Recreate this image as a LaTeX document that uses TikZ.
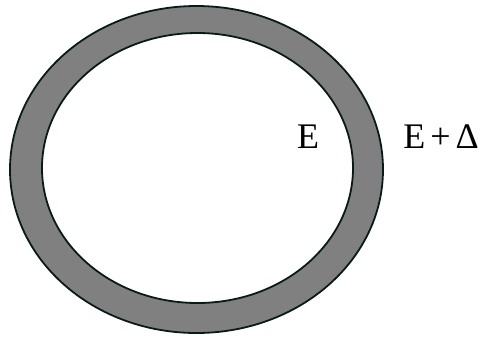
\documentclass[tikz,border=0pt]{standalone}
\usepackage{fontspec}
\setmainfont{Liberation Serif}
\definecolor{ringgray}{HTML}{808080}
\definecolor{ringline}{HTML}{0A1A1A}
\tikzset{
  ringedge/.style={draw=ringline, line width=1.8pt},
  lbl/.style={inner sep=0pt, anchor=base, font=\fontsize{36}{42}\selectfont}
}
\begin{document}
\begin{tikzpicture}[x=1pt,y=-1pt]
\useasboundingbox (0,0) rectangle (486,338);
\fill[ringgray, even odd rule] (196.5,169.5) ellipse [x radius=186.5, y radius=163.5]
  (197.5,168) ellipse [x radius=155.5, y radius=135];
\draw[ringedge] (196.5,169.5) ellipse [x radius=186.5, y radius=163.5];
\draw[ringedge] (197.5,168) ellipse [x radius=155.5, y radius=135];
\node[lbl] (e) at (308,148) {E};
\node[lbl] (ed) at (441,148) {E\kern5pt+\kern5pt Δ};
\end{tikzpicture}
\end{document}
